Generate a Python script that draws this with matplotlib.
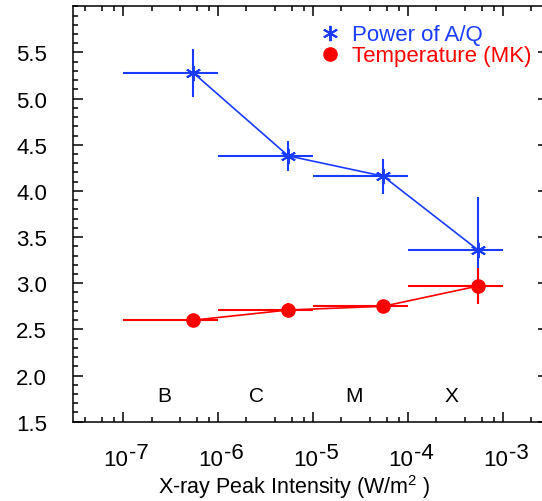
import numpy as np
import matplotlib
matplotlib.use("Agg")
import matplotlib.pyplot as plt
from matplotlib.lines import Line2D
from matplotlib.ticker import LogLocator, MultipleLocator, FixedLocator, NullFormatter

plt.rcParams['font.family'] = ['Liberation Sans', 'DejaVu Sans']
plt.rcParams['mathtext.fontset'] = 'custom'
plt.rcParams['mathtext.rm'] = 'Liberation Sans'
plt.rcParams['mathtext.it'] = 'Liberation Sans'

# ---- data ----
class_names = ['B', 'C', 'M', 'X']
class_lo = [1e-7, 1e-6, 1e-5, 1e-4]
class_hi = [1e-6, 1e-5, 1e-4, 1e-3]
peak_x = [5.5e-7, 5.5e-6, 5.5e-5, 5.5e-4]

aq_power = [5.28, 4.38, 4.16, 3.36]
aq_err = [0.26, 0.16, 0.19, 0.57]

temp_mk = [2.60, 2.71, 2.75, 2.97]
temp_err = [0.03, 0.08, 0.04, 0.19]

class_label_x = [2.72e-7, 2.57e-6, 2.69e-5, 2.9e-4]
class_label_y = 1.78

xtick_exponents = [-7, -6, -5, -4, -3]

blue = '#1a3cff'
red = '#ff0000'

fig = plt.figure(figsize=(5.42, 5.02), dpi=100)
ax = fig.add_axes([73.3/542, 79.3/502, (548-73.3)/542, (494.7-79.3)/502])

x = np.array(peak_x)
xerr = np.array([x - np.array(class_lo), np.array(class_hi) - x])

ax.errorbar(x, aq_power, xerr=xerr, yerr=aq_err, fmt='none', ecolor=blue,
            elinewidth=1.5, capsize=0, zorder=2)
ax.plot(x, aq_power, color=blue, lw=1.2, marker=(6, 2, 0), ms=11, mew=1.4,
        zorder=3)

ax.errorbar(x, temp_mk, xerr=xerr, yerr=temp_err, fmt='none', ecolor=red,
            elinewidth=1.5, capsize=0, zorder=4)
ax.plot(x, temp_mk, color=red, lw=1.2, marker='o', ms=9.5, zorder=5)

for name, lx in zip(class_names, class_label_x):
    ax.text(lx, class_label_y, name, ha='center', va='center', fontsize=15)

ax.set_xscale('log')
ax.set_xlim(3e-8, 3e-3)
ax.set_ylim(1.5, 6.0)

ax.xaxis.set_major_locator(LogLocator(base=10, numticks=20))
ax.xaxis.set_minor_locator(LogLocator(base=10, subs=[2, 4, 6, 8], numticks=20))
ax.xaxis.set_major_formatter(NullFormatter())
ax.xaxis.set_minor_formatter(NullFormatter())
ax.yaxis.set_major_locator(FixedLocator(np.arange(1.5, 5.51, 0.5)))
ax.yaxis.set_minor_locator(MultipleLocator(0.1))
ax.yaxis.set_major_formatter(plt.FuncFormatter(lambda v, p: f'{v:.1f}'))

ax.tick_params(which='both', direction='in', top=True, right=True,
               width=1.1, colors='black')
ax.tick_params(which='major', length=7.5)
ax.tick_params(which='minor', length=3.8)
ax.tick_params(axis='y', which='major', labelsize=16, pad=19)
for sp in ax.spines.values():
    sp.set_linewidth(1.1)

# x tick labels: "10" with a full-size raised exponent
for e in xtick_exponents:
    ax.annotate('10', xy=(10.0**e, 0), xycoords=('data', 'axes fraction'),
                xytext=(5.5, -43.5), textcoords='offset pixels',
                ha='right', va='baseline', fontsize=16, annotation_clip=False)
    ax.annotate(f'-{-e}', xy=(10.0**e, 0), xycoords=('data', 'axes fraction'),
                xytext=(6.5, -36.5), textcoords='offset pixels',
                ha='left', va='baseline', fontsize=16, annotation_clip=False)

ax.set_xlabel('X-ray Peak Intensity (W/m$^2$ )', fontsize=15.5, labelpad=0)
ax.xaxis.set_label_coords(0.465, -0.121)

handles = [Line2D([], [], color=blue, ls='none', marker=(6, 2, 0), ms=11, mew=1.4),
           Line2D([], [], color=red, ls='none', marker='o', ms=9.5)]
leg = ax.legend(handles, ['Power of A/Q', 'Temperature (MK)'], loc='upper left',
                bbox_to_anchor=(0.4976, 0.978), frameon=False, fontsize=16,
                handlelength=1.0, handletextpad=0.5, labelspacing=0.0,
                borderaxespad=0)
for t, c in zip(leg.get_texts(), [blue, red]):
    t.set_color(c)

fig.savefig('out.png', dpi=100)
